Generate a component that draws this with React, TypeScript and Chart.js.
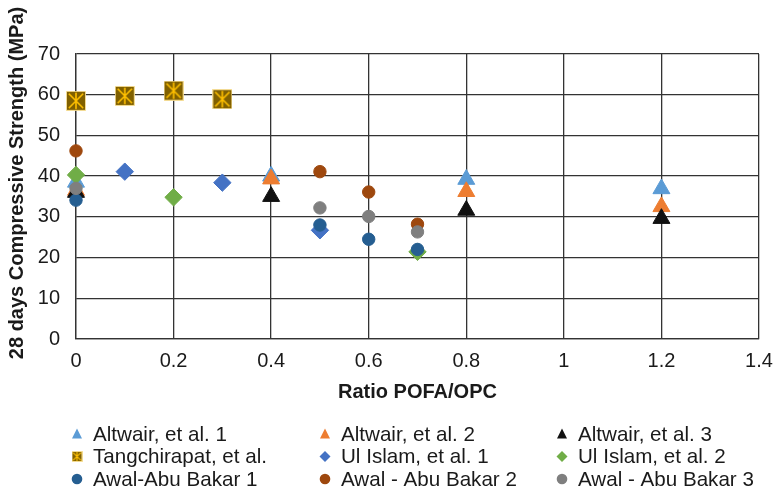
import React, { useEffect, useRef } from 'react';
import { Chart, registerables } from 'chart.js';

Chart.register(...registerables);

// POFA/OPC ratios and 28-day compressive strengths (MPa) per study
const ratioAltwair = [0, 0.4, 0.8, 1.2];
const altwair1 = [38.5, 40.0, 39.2, 36.9];
const altwair2 = [36.5, 39.3, 36.2, 32.5];
const altwair3 = [36.0, 35.0, 31.6, 29.6];

const ratioTangchirapat = [0, 0.1, 0.2, 0.3];
const tangchirapat = [58.5, 59.7, 61.0, 58.9];

const ratioIslam1 = [0.1, 0.3, 0.5];
const islam1 = [41.1, 38.4, 26.7];

const ratioIslam2 = [0, 0.2, 0.7];
const islam2 = [40.3, 34.8, 21.4];

const ratioAwal = [0, 0.5, 0.6, 0.7];
const awal1 = [34.1, 28.0, 24.5, 22.0];
const awal2 = [46.2, 41.1, 36.1, 28.2];
const awal3 = [37.0, 32.2, 30.1, 26.3];

const xTicks = [0, 0.2, 0.4, 0.6, 0.8, 1, 1.2, 1.4];
const yTicks = [0, 10, 20, 30, 40, 50, 60, 70];

const xTitle = 'Ratio POFA/OPC';
const yTitle = '28 days Compressive Strength (MPa)';

const FONT = "'Liberation Sans', Arial, Helvetica, sans-serif";

// Gold square with a yellow asterisk (X plus vertical stroke)
function makeStarSquare(size: number): HTMLCanvasElement {
  const c = document.createElement('canvas');
  c.width = size;
  c.height = size;
  const g = c.getContext('2d')!;
  g.fillStyle = '#806000';
  g.fillRect(0.5, 0.5, size - 1, size - 1);
  g.strokeStyle = 'rgba(255,230,153,0.8)';
  g.lineWidth = 1;
  g.strokeRect(0.5, 0.5, size - 1, size - 1);
  g.strokeStyle = '#FFC000';
  g.lineWidth = size > 14 ? 1.6 : 1.1;
  const m = size * 0.14;
  g.beginPath();
  g.moveTo(m, m);
  g.lineTo(size - m, size - m);
  g.moveTo(size - m, m);
  g.lineTo(m, size - m);
  g.moveTo(size / 2, m * 0.6);
  g.lineTo(size / 2, size - m * 0.6);
  g.stroke();
  return c;
}

type Series = {
  name: string;
  x: number[];
  y: number[];
  color: string;
  shape: 'triangle' | 'rectRot' | 'circle' | 'star';
};

const series: Series[] = [
  { name: 'Altwair, et al. 1', x: ratioAltwair, y: altwair1, color: '#5B9BD5', shape: 'triangle' },
  { name: 'Altwair, et al. 2', x: ratioAltwair, y: altwair2, color: '#ED7D31', shape: 'triangle' },
  { name: 'Altwair, et al. 3', x: ratioAltwair, y: altwair3, color: '#111111', shape: 'triangle' },
  { name: 'Tangchirapat, et al.', x: ratioTangchirapat, y: tangchirapat, color: '#806000', shape: 'star' },
  { name: 'Ul Islam, et al. 1', x: ratioIslam1, y: islam1, color: '#4472C4', shape: 'rectRot' },
  { name: 'Ul Islam, et al. 2', x: ratioIslam2, y: islam2, color: '#70AD47', shape: 'rectRot' },
  { name: 'Awal-Abu Bakar 1', x: ratioAwal, y: awal1, color: '#255E91', shape: 'circle' },
  { name: 'Awal - Abu Bakar 2', x: ratioAwal, y: awal2, color: '#9E480E', shape: 'circle' },
  { name: 'Awal - Abu Bakar 3', x: ratioAwal, y: awal3, color: '#7F7F7F', shape: 'circle' },
];

const legendCols = [77, 325, 562];
const legendRows = [434, 456.5, 479];

function drawLegendMarker(ctx: CanvasRenderingContext2D, s: Series, x: number, y: number, icon: HTMLCanvasElement) {
  ctx.save();
  ctx.fillStyle = s.color;
  ctx.beginPath();
  if (s.shape === 'triangle') {
    ctx.moveTo(x, y - 5.5);
    ctx.lineTo(x + 5, y + 4.5);
    ctx.lineTo(x - 5, y + 4.5);
    ctx.closePath();
    ctx.fill();
  } else if (s.shape === 'rectRot') {
    ctx.moveTo(x, y - 5.5);
    ctx.lineTo(x + 5.5, y);
    ctx.lineTo(x, y + 5.5);
    ctx.lineTo(x - 5.5, y);
    ctx.closePath();
    ctx.fill();
  } else if (s.shape === 'circle') {
    ctx.arc(x, y, 5.3, 0, Math.PI * 2);
    ctx.fill();
  } else {
    ctx.drawImage(icon, x - icon.width / 2, y - icon.height / 2);
  }
  ctx.restore();
}

export default function App() {
  const canvasRef = useRef<HTMLCanvasElement | null>(null);

  useEffect(() => {
    const canvas = canvasRef.current;
    if (!canvas) return;
    const bigStar = makeStarSquare(20);
    const smallStar = makeStarSquare(11);

    const datasets = series.map((s, i) => {
      const base: any = {
        label: s.name,
        data: s.x.map((x, j) => ({ x, y: s.y[j] })),
        showLine: false,
        clip: false,
        backgroundColor: s.color,
        borderColor: s.color,
        order: -i,
      };
      if (s.shape === 'triangle') {
        Object.assign(base, { pointStyle: 'triangle', pointRadius: 9.8, borderWidth: 1 });
      } else if (s.shape === 'rectRot') {
        Object.assign(base, { pointStyle: 'rectRot', pointRadius: 8.7, borderWidth: 1 });
      } else if (s.shape === 'circle') {
        Object.assign(base, { pointStyle: 'circle', pointRadius: 6.2, borderWidth: 1 });
      } else {
        Object.assign(base, { pointStyle: bigStar, pointRadius: 10, borderWidth: 0 });
      }
      return base;
    });

    const annotate = {
      id: 'titlesAndLegend',
      afterDraw(chart: Chart) {
        const ctx = chart.ctx;
        const area = chart.chartArea;
        ctx.save();
        ctx.fillStyle = '#1a1a1a';
        ctx.font = `bold 20px ${FONT}`;
        ctx.textAlign = 'center';
        ctx.textBaseline = 'middle';
        ctx.fillText(xTitle, (area.left + area.right) / 2, 392);
        ctx.save();
        ctx.translate(17, 183);
        ctx.rotate(-Math.PI / 2);
        ctx.fillText(yTitle, 0, 0);
        ctx.restore();

        ctx.font = `20.6px ${FONT}`;
        ctx.textAlign = 'left';
        series.forEach((s, i) => {
          const col = i % 3;
          const row = Math.floor(i / 3);
          const mx = legendCols[col];
          const my = legendRows[row];
          drawLegendMarker(ctx, s, mx, my, smallStar);
          ctx.fillStyle = '#1a1a1a';
          ctx.fillText(s.name, mx + 16, my + 1);
        });
        ctx.restore();
      },
    };

    const chart = new Chart(canvas, {
      type: 'scatter',
      data: { datasets },
      options: {
        responsive: false,
        animation: false,
        devicePixelRatio: 1,
        layout: { padding: { top: 54, right: 16, left: 0, bottom: 0 } },
        plugins: { legend: { display: false }, tooltip: { enabled: false } },
        scales: {
          x: {
            type: 'linear',
            min: 0,
            max: 1.4,
            afterBuildTicks: (scale: any) => {
              scale.ticks = xTicks.map((v) => ({ value: v }));
            },
            afterFit: (scale: any) => {
              scale.height = 151;
              scale.paddingLeft = 0;
              scale.paddingRight = 0;
            },
            ticks: {
              color: '#1a1a1a',
              font: { family: FONT, size: 20 },
              padding: 10,
              maxRotation: 0,
              callback: (v: any) => String(v),
            },
            grid: { color: '#333333', lineWidth: 1.3, drawTicks: false },
            border: { color: '#333333', width: 1.3 },
          },
          y: {
            type: 'linear',
            min: 0,
            max: 70,
            afterBuildTicks: (scale: any) => {
              scale.ticks = yTicks.map((v) => ({ value: v }));
            },
            afterFit: (scale: any) => {
              scale.width = 76;
              scale.paddingTop = 0;
              scale.paddingBottom = 0;
            },
            ticks: {
              color: '#1a1a1a',
              font: { family: FONT, size: 20 },
              padding: 16,
              callback: (v: any) => String(v),
            },
            grid: { color: '#333333', lineWidth: 1.3, drawTicks: false },
            border: { color: '#333333', width: 1.3 },
          },
        },
      },
      plugins: [annotate],
    });

    return () => chart.destroy();
  }, []);

  return (
    <div style={{ position: 'absolute', left: 0, top: 0, width: 775, height: 490, background: '#fff' }}>
      <canvas ref={canvasRef} width={775} height={490} style={{ width: 775, height: 490, display: 'block' }} />
    </div>
  );
}
